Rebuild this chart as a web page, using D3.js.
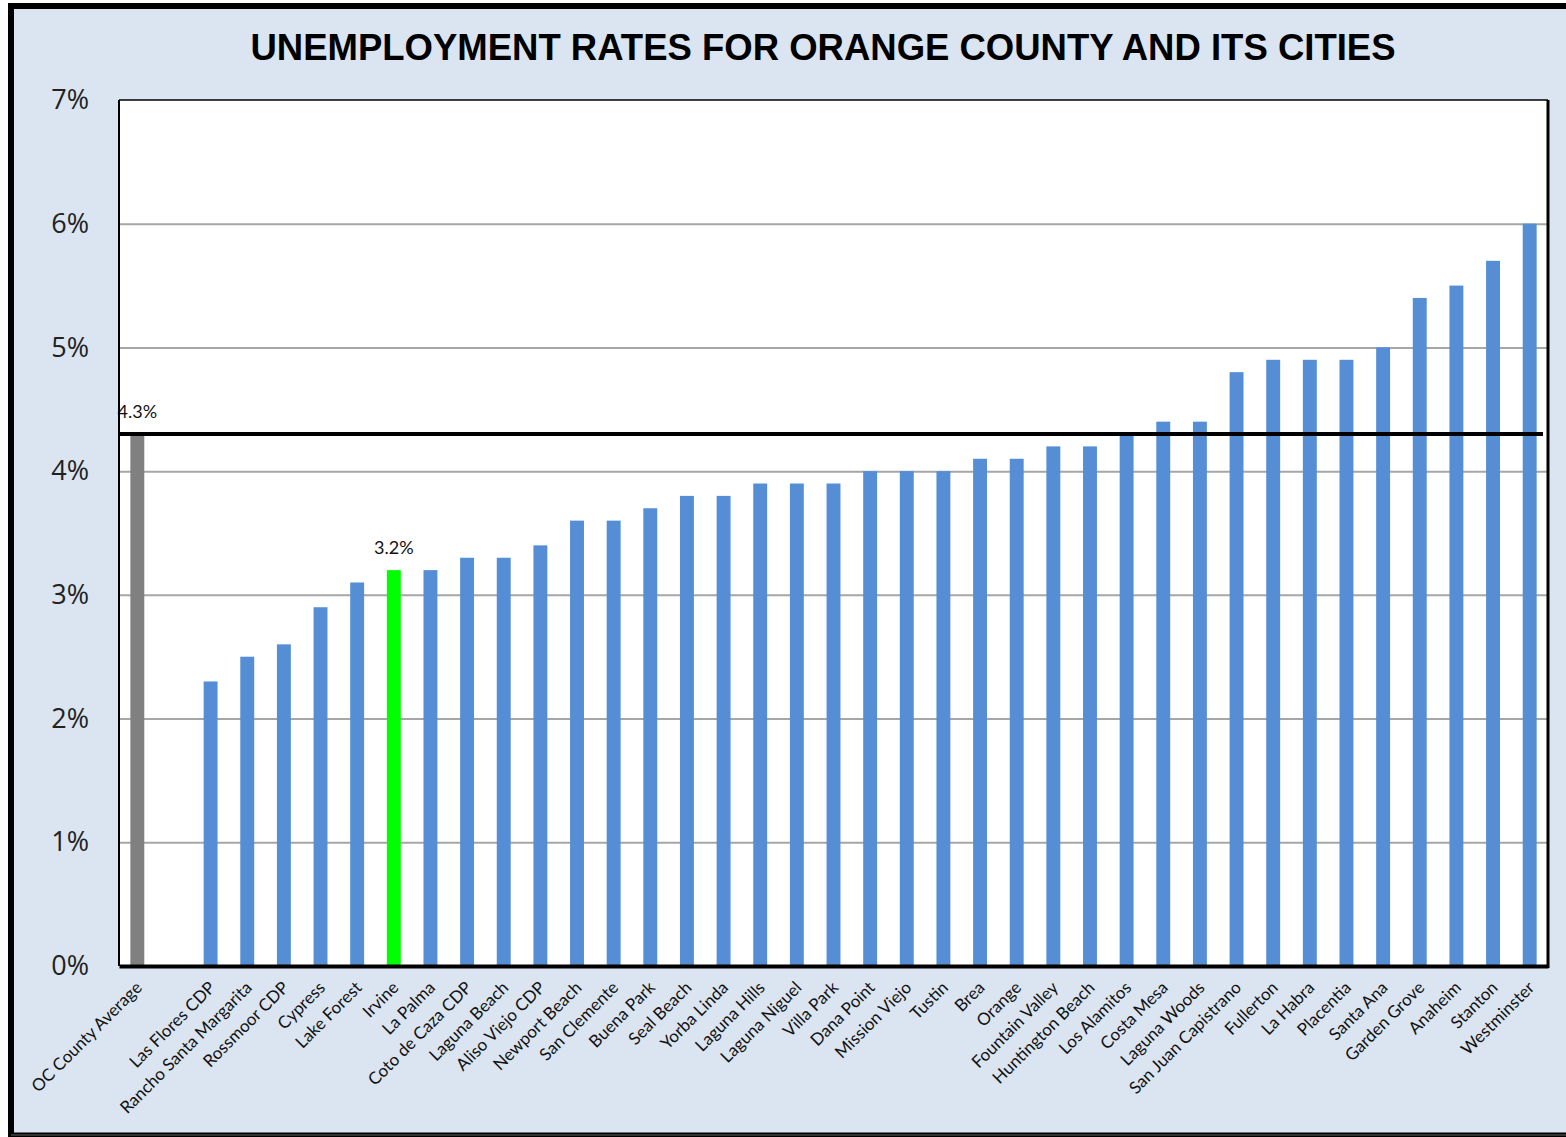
<!DOCTYPE html>
<html>
<head>
<script src="https://d3js.org/d3.v7.min.js"></script>
<style>
  body { margin: 0; background: #fff; }
  text { font-family: Lato, "Open Sans", sans-serif; }
</style>
</head>
<body>
<script>
// data
const cities = ["OC County Average", "", "Las Flores CDP", "Rancho Santa Margarita", "Rossmoor CDP", "Cypress",
  "Lake Forest", "Irvine", "La Palma", "Coto de Caza CDP", "Laguna Beach", "Aliso Viejo CDP", "Newport Beach",
  "San Clemente", "Buena Park", "Seal Beach", "Yorba Linda", "Laguna Hills", "Laguna Niguel", "Villa Park",
  "Dana Point", "Mission Viejo", "Tustin", "Brea", "Orange", "Fountain Valley", "Huntington Beach",
  "Los Alamitos", "Costa Mesa", "Laguna Woods", "San Juan Capistrano", "Fullerton", "La Habra", "Placentia",
  "Santa Ana", "Garden Grove", "Anaheim", "Stanton", "Westminster"];
const rates = [4.3, null, 2.3, 2.5, 2.6, 2.9, 3.1, 3.2, 3.2, 3.3, 3.3, 3.4, 3.6, 3.6, 3.7, 3.8, 3.8, 3.9, 3.9, 3.9,
  4.0, 4.0, 4.0, 4.1, 4.1, 4.2, 4.2, 4.3, 4.4, 4.4, 4.8, 4.9, 4.9, 4.9, 5.0, 5.4, 5.5, 5.7, 6.0];
const yTicks = [0, 1, 2, 3, 4, 5, 6, 7];
const countyAvg = 4.3;
const labelled = ["OC County Average", "Irvine"];

const W = 1566, H = 1137;
const margin = { top: 100, right: 18, bottom: 171, left: 119 };
const width = W - margin.left - margin.right;
const height = H - margin.top - margin.bottom;

const svg = d3.select("body").append("svg")
  .attr("width", W)
  .attr("height", H);

// background and frame
svg.append("rect").attr("x", 0).attr("y", 0).attr("width", W).attr("height", H).attr("fill", "#fff");
svg.append("rect").attr("x", 11).attr("y", 6).attr("width", W).attr("height", H - 7.5)
  .attr("fill", "#dbe5f1").attr("stroke", "#000").attr("stroke-width", 6);
svg.append("line").attr("x1", 11).attr("x2", W).attr("y1", H - 2).attr("y2", H - 2)
  .attr("stroke", "#333").attr("stroke-width", 2);

svg.append("text")
  .attr("x", 823).attr("y", 60)
  .attr("text-anchor", "middle")
  .style("font-family", "'Liberation Sans', Arial, sans-serif")
  .style("font-weight", "bold")
  .style("font-size", "36.5px")
  .text("UNEMPLOYMENT RATES FOR ORANGE COUNTY AND ITS CITIES");

const g = svg.append("g").attr("transform", `translate(${margin.left},${margin.top})`);

g.append("rect").attr("width", width).attr("height", height).attr("fill", "#fff");

const x = d3.scaleBand().domain(d3.range(cities.length)).range([0, width])
  .paddingInner(0.62).paddingOuter(0.31);
const y = d3.scaleLinear().domain([0, 7]).range([height, 0]);

// gridlines
g.append("g").attr("class", "grid")
  .call(d3.axisLeft(y).tickValues(yTicks.slice(1, -1)).tickSize(-width).tickFormat(""))
  .call(s => s.select(".domain").remove())
  .call(s => s.selectAll("line").attr("stroke", "#a6a6a6").attr("stroke-width", 2));

// bars
g.selectAll("rect.bar")
  .data(rates.map((v, i) => ({ v, i, name: cities[i] })).filter(d => d.v != null))
  .enter().append("rect")
  .attr("class", "bar")
  .attr("x", d => x(d.i))
  .attr("y", d => y(d.v))
  .attr("width", x.bandwidth())
  .attr("height", d => height - y(d.v))
  .attr("fill", d => d.i === 0 ? "#808080" : d.name === "Irvine" ? "#00ff00" : "#558ed5");

// county average line
g.append("line")
  .attr("x1", 0).attr("x2", width - 5)
  .attr("y1", y(countyAvg)).attr("y2", y(countyAvg))
  .attr("stroke", "#000").attr("stroke-width", 4);

// value labels
g.selectAll("text.val")
  .data(labelled.map(n => cities.indexOf(n)))
  .enter().append("text")
  .attr("class", "val")
  .attr("x", i => x(i) + x.bandwidth() / 2)
  .attr("y", i => y(rates[i]) - 16)
  .attr("text-anchor", "middle")
  .style("font-size", "18px")
  .attr("fill", "#111")
  .text(i => rates[i].toFixed(1) + "%");

// plot frame
g.append("line").attr("x1", 0).attr("x2", width).attr("y1", 0).attr("y2", 0).attr("stroke", "#000").attr("stroke-width", 1.5);
g.append("line").attr("x1", 0).attr("x2", 0).attr("y1", 0).attr("y2", height).attr("stroke", "#000").attr("stroke-width", 2);
g.append("line").attr("x1", width).attr("x2", width).attr("y1", 0).attr("y2", height + 2).attr("stroke", "#000").attr("stroke-width", 3);

// y axis
g.append("g")
  .call(d3.axisLeft(y).tickValues(yTicks).tickSize(0).tickPadding(30).tickFormat(d => d + "%"))
  .call(s => s.select(".domain").remove())
  .call(s => s.selectAll("text").style("font-family", "'Open Sans', sans-serif")
    .style("font-size", "27px").attr("fill", "#222"));

// x axis
g.append("g")
  .attr("transform", `translate(0,${height})`)
  .call(d3.axisBottom(x).tickSize(0).tickFormat(i => cities[i]))
  .call(s => s.select(".domain").attr("stroke", "#000").attr("stroke-width", 4))
  .call(s => s.selectAll("text")
    .style("font-size", "17px")
    .attr("fill", "#111")
    .attr("text-anchor", "end")
    .attr("dy", "0.3em")
    .attr("transform", "translate(0,17) rotate(-45)"));
</script>
</body>
</html>
